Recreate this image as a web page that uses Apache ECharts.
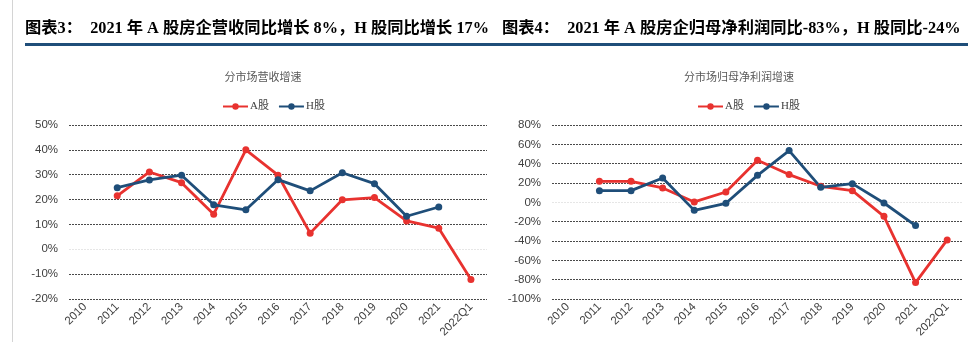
<!DOCTYPE html>
<html><head><meta charset="utf-8">
<script src="https://cdn.jsdelivr.net/npm/echarts@6/dist/echarts.min.js"></script>
<style>html,body{margin:0;padding:0;background:#fff}#c{width:968px;height:342px}</style>
</head><body><div id="c"></div>
<script>
const categories = ['2010','2011','2012','2013','2014','2015','2016','2017','2018','2019','2020','2021','2022Q1'];
// Chart 3: revenue growth (%)
const revA = [null, 21.5, 31.1, 26.8, 14.1, 40.0, 29.8, 6.5, 19.9, 20.8, 11.4, 8.5, -12.2];
const revH = [null, 24.8, 27.9, 29.8, 17.9, 15.9, 28.0, 23.5, 30.8, 26.4, 13.3, 17.0, null];
// Chart 4: net profit attributable to parent growth (%)
const npA = [null, 21.7, 21.7, 14.9, 0.4, 10.7, 43.5, 28.7, 16.6, 12.1, -14.5, -83.0, -38.9];
const npH = [null, 12.1, 12.1, 25.2, -8.3, -1.0, 27.9, 53.5, 15.5, 19.3, -0.7, -24.0, null];
const title3 = '图表3：  2021 年 A 股房企营收同比增长 8%，H 股同比增长 17%';
const title4 = '图表4：  2021 年 A 股房企归母净利润同比-83%，H 股同比-24%';
const sub3 = '分市场营收增速';
const sub4 = '分市场归母净利润增速';
const nameA = 'A股', nameH = 'H股';

const RED = '#e8322f', BLUE = '#1f4e79';
const chart = echarts.init(document.getElementById('c'));

function yAxis(idx, min, max, interval){
  const n = Math.round((max-min)/interval);
  const colors = [];
  for (let i=0;i<=n;i++){ colors.push(Math.abs(min+i*interval)<1e-9 ? '#e6e6e6' : '#4a4a4a'); }
  return {type:'value', gridIndex:idx, min, max, interval,
    axisLine:{show:false}, axisTick:{show:false},
    axisLabel:{formatter:'{value}%', color:'#404040', fontSize:11.5, fontFamily:'Liberation Sans, Arial', margin:11},
    splitLine:{show:true, lineStyle:{color:colors, width:1, type:[2,1]}}};
}
function xAxis(idx){
  return {type:'category', gridIndex:idx, data:categories, boundaryGap:true,
    axisLine:{show:false}, axisTick:{show:false},
    axisLabel:{rotate:45, interval:0, color:'#404040', fontSize:11.5, fontFamily:'Liberation Sans, Arial', margin:6}};
}
function line(name, data, color, idx){
  return {name, type:'line', data, xAxisIndex:idx, yAxisIndex:idx, connectNulls:false,
    symbol:'circle', symbolSize:7, lineStyle:{color, width:2.8}, itemStyle:{color}, animation:false};
}
chart.setOption({
  animation:false,
  grid:[{left:69, right:481, top:125, bottom:43},{left:552, right:5, top:125, bottom:43}],
  xAxis:[xAxis(0), xAxis(1)],
  yAxis:[yAxis(0,-20,50,10), yAxis(1,-100,80,20)],
  legend:[
    {left:217, top:96, itemWidth:25, itemHeight:8, itemGap:9, data:[nameA,nameH],
     textStyle:{fontSize:11, color:'#404040', fontFamily:'Liberation Serif, Noto Sans CJK SC', padding:[0,0,0,-3]}},
    {left:692, top:96, itemWidth:25, itemHeight:8, itemGap:9, data:[nameA,nameH],
     textStyle:{fontSize:11, color:'#404040', fontFamily:'Liberation Serif, Noto Sans CJK SC', padding:[0,0,0,-3]}}
  ],
  series:[
    line(nameA, revA, RED, 0), line(nameH, revH, BLUE, 0),
    line(nameA, npA, RED, 1), line(nameH, npH, BLUE, 1)
  ],
  graphic:[
    {type:'line', shape:{x1:12.5,y1:0,x2:12.5,y2:342}, style:{stroke:'#d4d4d4', lineWidth:1}},
    {type:'rect', shape:{x:25,y:43,width:943,height:3}, style:{fill:'#1f4e79'}},
    {type:'text', left:25, top:21, style:{text:title3, font:'bold 16.3px "Liberation Serif", "Noto Sans CJK SC"', fill:'#000'}},
    {type:'text', left:502, top:21, style:{text:title4, font:'bold 16.3px "Liberation Serif", "Noto Sans CJK SC"', fill:'#000'}},
    {type:'text', x:263, y:77, style:{text:sub3, font:'11px "Noto Sans CJK SC"', fill:'#595959', align:'center', verticalAlign:'middle'}},
    {type:'text', x:739, y:77, style:{text:sub4, font:'11px "Noto Sans CJK SC"', fill:'#595959', align:'center', verticalAlign:'middle'}}
  ]
});
</script></body></html>
